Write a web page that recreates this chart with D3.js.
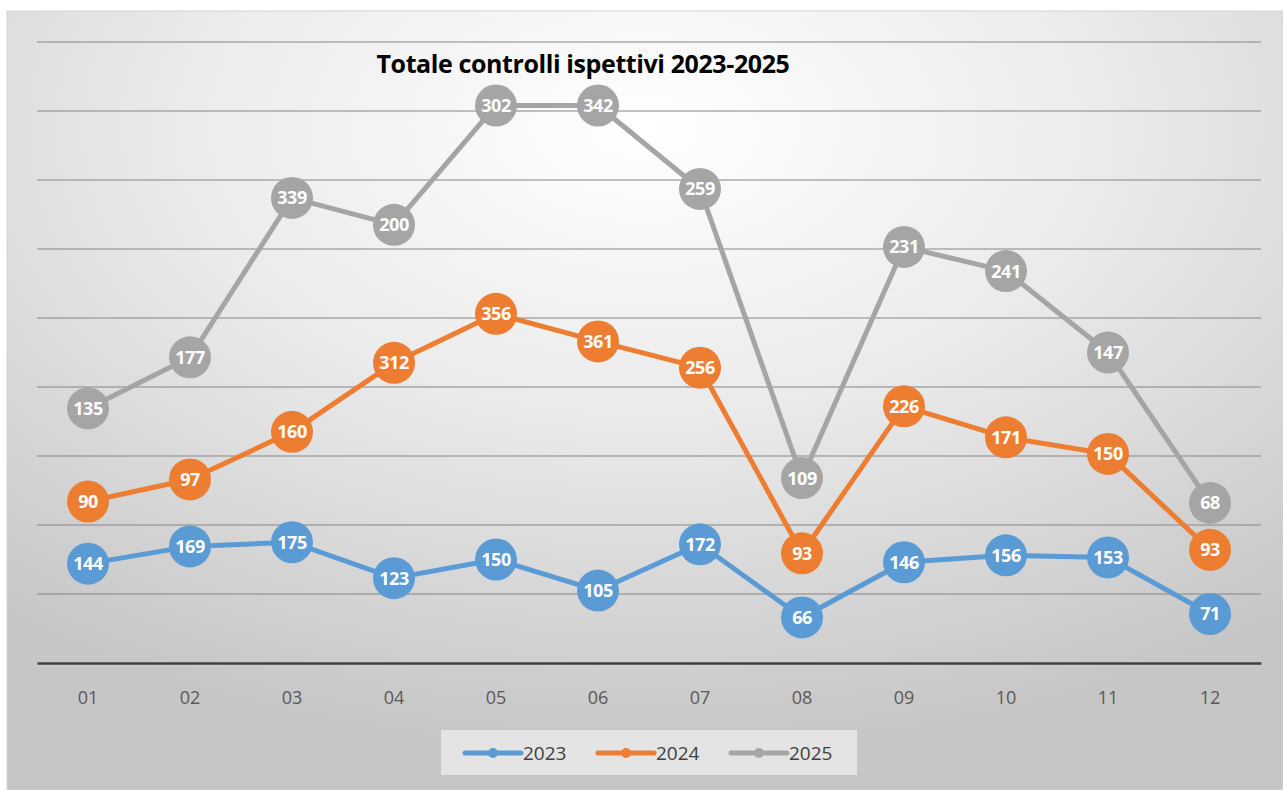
<!DOCTYPE html>
<html><head><meta charset="utf-8">
<script src="https://cdn.jsdelivr.net/npm/d3@7"></script>
<style>html,body{margin:0;padding:0;background:#fff;}svg{display:block;}</style>
</head><body>
<svg id="chart" width="1283" height="790"></svg>
<script>
const categories = ["01","02","03","04","05","06","07","08","09","10","11","12"];
const seriesNames = ["2023","2024","2025"];
const values2023 = [144,169,175,123,150,105,172,66,146,156,153,71];
const values2024 = [90,97,160,312,356,361,256,93,226,171,150,93];
const values2025 = [135,177,339,200,302,342,259,109,231,241,147,68];
const yTicks = [0,100,200,300,400,500,600,700,800,900];
const colors = ["#5B9BD5","#ED7D31","#A5A5A5"];
const title = "Totale controlli ispettivi 2023-2025";

const svg = d3.select("#chart");
const defs = svg.append("defs");
const grad = defs.append("radialGradient").attr("id","bg")
  .attr("cx","0.5").attr("cy","0.15").attr("r","0.8").attr("gradientUnits","objectBoundingBox");
grad.append("stop").attr("offset","0").attr("stop-color","#ffffff");
grad.append("stop").attr("offset","0.45").attr("stop-color","#ebebeb");
grad.append("stop").attr("offset","1").attr("stop-color","#c6c6c6");

svg.append("rect").attr("x",7).attr("y",11).attr("width",1283-7).attr("height",790-11)
  .attr("fill","url(#bg)").attr("stroke","#d4d4d4").attr("stroke-width",1);

const x0 = 37, x1 = 1261, yBase = 663;
const x = d3.scaleBand().domain(categories).range([x0,x1]);
const y = d3.scaleLinear().domain([0,900]).range([yBase, yBase-621]);

// gridlines
svg.append("g").selectAll("line").data(yTicks.slice(1)).join("line")
  .attr("x1",x0).attr("x2",x1).attr("y1",d=>y(d)).attr("y2",d=>y(d))
  .attr("stroke","#858585").attr("stroke-width",1);

// x axis
const xAxis = svg.append("g").attr("transform",`translate(0,${yBase})`)
  .call(d3.axisBottom(x).tickSize(0).tickPadding(28));
xAxis.select(".domain").attr("stroke","#404040").attr("stroke-width",2.5);
xAxis.selectAll("text").attr("font-family","'Open Sans', 'DejaVu Sans', sans-serif")
  .attr("font-size",18).attr("fill","#595959");

// stacked
const raw = [values2023, values2024, values2025];
const stacked = [];
let acc = categories.map(()=>0);
raw.forEach(arr=>{ acc = acc.map((a,i)=>a+arr[i]); stacked.push(acc.slice()); });

const cx = d => x(d) + x.bandwidth()/2;
const line = d3.line().x(d=>cx(d.c)).y(d=>y(d.v));

raw.forEach((arr,si)=>{
  const pts = categories.map((c,i)=>({c, v: stacked[si][i], label: arr[i]}));
  svg.append("path").datum(pts).attr("d",line).attr("fill","none")
    .attr("stroke",colors[si]).attr("stroke-width",5).attr("stroke-linejoin","round");
});
raw.forEach((arr,si)=>{
  const pts = categories.map((c,i)=>({c, v: stacked[si][i], label: arr[i]}));
  const g = svg.append("g");
  g.selectAll("circle").data(pts).join("circle")
    .attr("cx",d=>cx(d.c)).attr("cy",d=>y(d.v)).attr("r",21).attr("fill",colors[si]);
  g.selectAll("text").data(pts).join("text")
    .attr("x",d=>cx(d.c)).attr("y",d=>y(d.v)).attr("dy","0.36em")
    .attr("text-anchor","middle").attr("font-family","'Open Sans',sans-serif")
    .attr("font-weight","bold").attr("font-size",18).attr("letter-spacing","-0.5").attr("fill","#ffffff")
    .text(d=>d.label);
});

// title
svg.append("text").attr("x",583).attr("y",73).attr("text-anchor","middle")
  .attr("font-family","'Open Sans','Liberation Sans',sans-serif").attr("font-weight","bold")
  .attr("font-size",25).attr("fill","#000").attr("letter-spacing","-0.4").text(title);

// legend
const lg = svg.append("g");
lg.append("rect").attr("x",441).attr("y",730).attr("width",416).attr("height",45).attr("fill","#e4e4e4");
const lx = [465, 598, 731];
seriesNames.forEach((n,i)=>{
  const gx = lx[i];
  lg.append("line").attr("x1",gx).attr("x2",gx+56).attr("y1",753).attr("y2",753)
    .attr("stroke",colors[i]).attr("stroke-width",5).attr("stroke-linecap","round");
  lg.append("circle").attr("cx",gx+28).attr("cy",753).attr("r",5).attr("fill",colors[i]);
  lg.append("text").attr("x",gx+58).attr("y",753).attr("dy","0.35em")
    .attr("font-family","'Open Sans','DejaVu Sans',sans-serif").attr("font-size",19).attr("fill","#404040").text(n);
});
</script>
</body></html>
